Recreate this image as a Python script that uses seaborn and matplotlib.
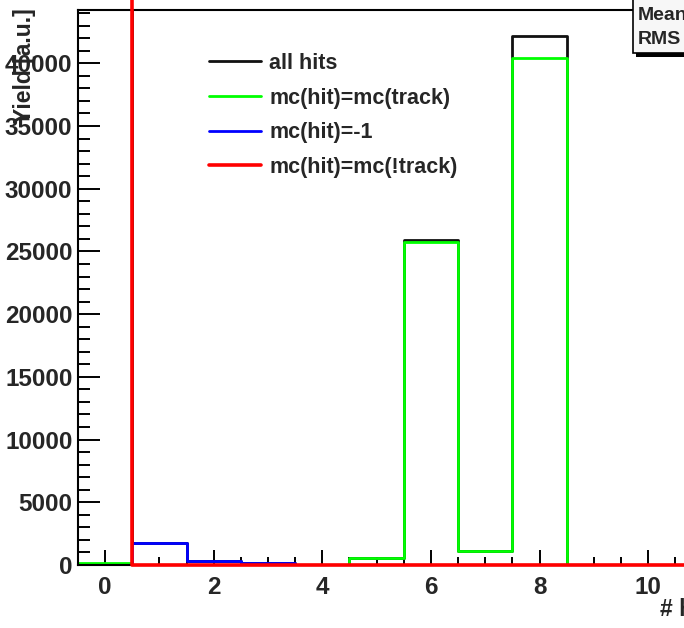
import numpy as np
import pandas as pd
import matplotlib
matplotlib.use("Agg")
import matplotlib.pyplot as plt
from matplotlib.patches import Rectangle
import seaborn as sns

# histogram contents per bin (bin centres 0..11)
bin_centers = np.arange(12)
all_hits = [60100, 1750, 320, 160, 0, 560, 25930, 1090, 42190, 0, 0, 0]
mc_track = [120, 0, 0, 0, 0, 560, 25770, 1090, 40400, 0, 0, 0]
mc_minus1 = [0, 1750, 320, 160, 0, 0, 0, 0, 0, 0, 0, 0]
mc_not_track = [60000, 0, 0, 0, 0, 0, 0, 0, 0, 0, 0, 0]
labels = ["all hits", "mc(hit)=mc(track)", "mc(hit)=-1", "mc(hit)=mc(!track)"]
colors = ["#111111", "#00ff00", "#0000ff", "#ff0000"]

sns.set_theme(style="ticks")
plt.rcParams["font.family"] = ["Liberation Sans", "DejaVu Sans"]
plt.rcParams["font.weight"] = "bold"

W, H = 684, 628
fig = plt.figure(figsize=(W / 100, H / 100), dpi=100)
ax = fig.add_axes([78 / W, 1 - 565 / H, 12 * 54.3 / W, 555 / H])

for vals, col in zip([all_hits, mc_track, mc_minus1, mc_not_track], colors):
    df = pd.DataFrame({"bin": bin_centers, "entries": vals})
    sns.histplot(data=df, x="bin", weights="entries", binwidth=1,
                 binrange=(-0.5, 11.5), element="step", fill=False,
                 color=col, linewidth=2, ax=ax)
red = ax.lines[-1]
red.set_clip_on(False)
red.set_linewidth(2.6)
red.set_zorder(5)

ax.set_xlim(-0.5, 11.5)
ax.set_ylim(0, 44250)
ax.set_xlabel("")
ax.set_ylabel("")

ax.set_xticks(np.arange(0, 12, 2))
ax.set_xticks(np.arange(-0.5, 11.6, 0.5), minor=True)
ax.set_yticks(np.arange(0, 44001, 5000))
ax.set_yticks(np.arange(0, 44251, 1000), minor=True)
ax.tick_params(axis="both", which="both", direction="in", color="black",
               width=1.4, labelsize=17.5, bottom=True, left=True)
ax.tick_params(axis="y", which="major", length=16, pad=4)
ax.tick_params(axis="y", which="minor", length=8.5)
ax.tick_params(axis="x", which="major", length=11, pad=8)
ax.tick_params(axis="x", which="minor", length=5.5)
for lab in ax.get_xticklabels() + ax.get_yticklabels():
    lab.set_fontweight("bold")
for s in ax.spines.values():
    s.set_visible(True)
    s.set_color("black")
    s.set_linewidth(1.5)

font = {"family": ["Liberation Sans"], "weight": "bold", "size": 15.5}
ax.legend(ax.lines[:4], labels, loc="upper left",
          bbox_to_anchor=(209 / W, 1 - 53 / H), bbox_transform=fig.transFigure,
          frameon=False, prop=font, handlelength=2.4, handletextpad=0.4,
          labelspacing=0.63, borderpad=0, borderaxespad=0)

# statistics box, clipped at the right edge
fig.patches.append(Rectangle((636 / W, 1 - 57 / H), 80 / W, 57 / H,
                             transform=fig.transFigure, facecolor="black",
                             edgecolor="none", zorder=3))
fig.patches.append(Rectangle((633 / W, 1 - 53 / H), 80 / W, 60 / H,
                             transform=fig.transFigure, facecolor="#f7f7f7",
                             edgecolor="black", linewidth=1.2, zorder=4))
fig.text(638 / W, 1 - 15 / H, "Mean", fontsize=14, fontweight="bold",
         va="center", ha="left", zorder=5)
fig.text(638 / W, 1 - 40 / H, "RMS", fontsize=14, fontweight="bold",
         va="center", ha="left", zorder=5)

fig.text(25 / W, 1 - 8 / H, "Yield [a.u.]", rotation=90, fontsize=16.5,
         fontweight="bold", ha="center", va="top")
fig.text(660 / W, 1 - 610 / H, "# hits", fontsize=16.5, fontweight="bold",
         ha="left", va="center")

fig.savefig("out.png", dpi=100)
